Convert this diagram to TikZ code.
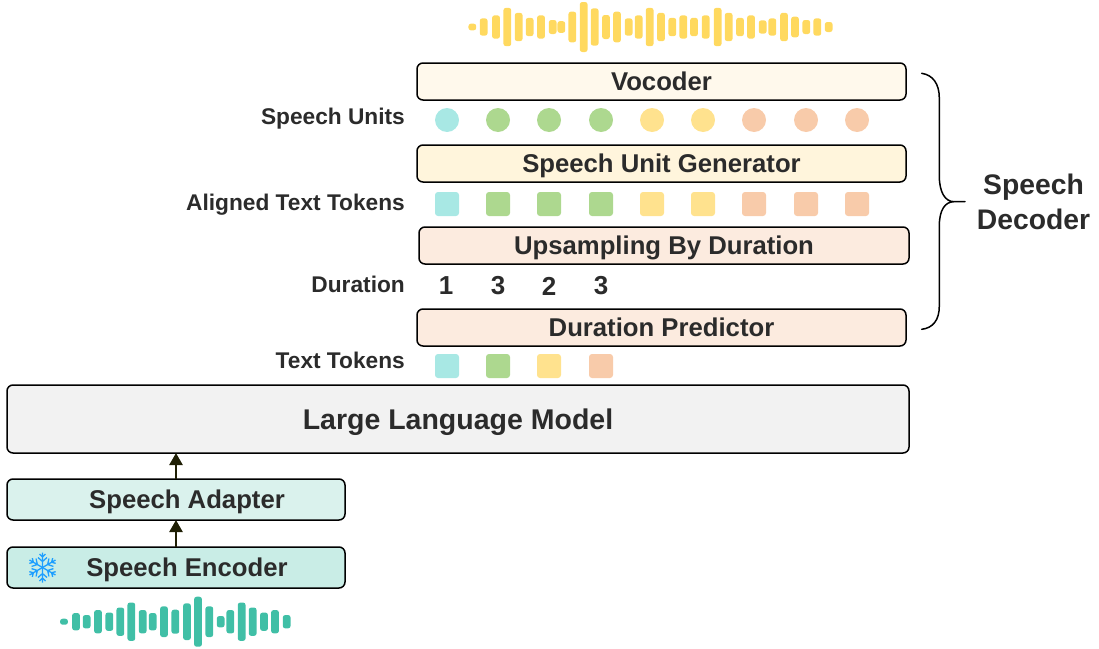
\documentclass[tikz,border=0pt]{standalone}
\usepackage{fontspec}
\setmainfont{Liberation Sans}
\usepackage{tikz}
\usetikzlibrary{arrows.meta}
\definecolor{inkgrey}{HTML}{2B2B2B}
\definecolor{arrowink}{HTML}{1F1F05}
\definecolor{teal1}{HTML}{A8E8E4}
\definecolor{green1}{HTML}{ADD88F}
\definecolor{yellow1}{HTML}{FFE28E}
\definecolor{orange1}{HTML}{F8CBAA}
\definecolor{vocfill}{HTML}{FFF9EC}
\definecolor{genfill}{HTML}{FFF5DC}
\definecolor{durfill}{HTML}{FCEBDF}
\definecolor{llmfill}{HTML}{F2F2F2}
\definecolor{adafill}{HTML}{DAF2ED}
\definecolor{encfill}{HTML}{C9EDE6}
\definecolor{flake}{HTML}{1E9FFF}
\definecolor{waveyellow}{HTML}{FFD95F}
\definecolor{waveteal}{HTML}{40BFA6}
\tikzset{
  block/.style={draw=black,line width=1.5pt,rounded corners=6pt,outer sep=0pt,inner sep=0pt,
    text=inkgrey,text height=18pt,text depth=0pt,font=\bfseries\fontsize{25.7}{28}\selectfont},
  sidelabel/.style={anchor=east,inner sep=0pt,text=inkgrey,text height=16pt,text depth=0pt,font=\bfseries\fontsize{22.7}{26}\selectfont},
  unitdot/.style={circle,minimum size=24pt,inner sep=0pt},
  tokenbox/.style={rounded corners=3pt,minimum size=24pt,inner sep=0pt},
  durnum/.style={inner sep=0pt,text=inkgrey,font=\bfseries\fontsize{26}{28}\selectfont},
  flow/.style={-{Triangle[length=12pt,width=13pt]},line width=2.4pt,draw=arrowink,fill=arrowink}
}
\begin{document}
\begin{tikzpicture}[x=1pt,y=-1pt,>=stealth]
  \useasboundingbox (0,0) rectangle (1099,648);
  % blocks
  \node[block,fill=vocfill,minimum width=489pt,minimum height=37pt] (voc) at (661.5,81.5) {Vocoder};
  \node[block,fill=genfill,minimum width=489pt,minimum height=37pt] (gen) at (661.5,163.5) {Speech Unit Generator};
  \node[block,fill=durfill,minimum width=490pt,minimum height=37pt] (ups) at (664,245.5) {Upsampling By Duration};
  \node[block,fill=durfill,minimum width=489pt,minimum height=37pt] (dur) at (661.5,327.5) {Duration Predictor};
  \node[block,fill=llmfill,minimum width=902pt,minimum height=68pt,text height=20pt,font=\bfseries\fontsize{28.5}{32}\selectfont] (llm) at (458,419) {Large Language Model};
  \node[block,fill=adafill,minimum width=338pt,minimum height=41pt] (ada) at (176,499.5) {\hspace*{22pt}Speech Adapter};
  \node[block,fill=encfill,minimum width=338pt,minimum height=41pt] (enc) at (176,567.5) {\hspace*{22pt}Speech Encoder};
  \draw[flow] (enc.north)--(ada.south);
  \draw[flow] (ada.north)--(ada.north |- llm.south);
  % side labels
  \node[sidelabel] (lunits) at (405,116) {Speech Units};
  \node[sidelabel] (laligned) at (405,202) {Aligned Text Tokens};
  \node[sidelabel] (lduration) at (405,284) {Duration};
  \node[sidelabel] (ltokens) at (405,360) {Text Tokens};
  % units and tokens
  \foreach \x/\c in {447/teal1,498/green1,549/green1,601/green1,652/yellow1,703/yellow1,754/orange1,806/orange1,857/orange1}{
    \node[unitdot,fill=\c] (unit\x) at (\x,120) {};
    \node[tokenbox,fill=\c] (aligned\x) at (\x,204) {};
  }
  \foreach \x/\c in {447/teal1,498/green1,549/yellow1,601/orange1}
    \node[tokenbox,fill=\c] (token\x) at (\x,366) {};
  \foreach \x/\n in {446/1,498/3,549/2,601/3}
    \node[durnum] (num\x) at (\x,286) {\n};
  % brace
  \draw[line width=1.5pt,line cap=round] (921.7,73.3) .. controls (933,75) and (939.3,84) .. (939.3,98)
    -- (939.3,176) .. controls (939.3,192) and (945,201.7) .. (954,201.7) -- (965,201.7)
    (954,201.7) .. controls (945,201.7) and (939.3,210) .. (939.3,226)
    -- (939.3,306) .. controls (939.3,320) and (933,328) .. (921.7,329.3);
  \node[align=center,inner sep=0pt,text=inkgrey,font=\bfseries\fontsize{28.3}{35}\selectfont] (decoder) at (1033.5,201.5) {Speech\\Decoder};
  % snowflake
  \begin{scope}[shift={(42.5,567.5)},draw=flake,line width=1.3pt]
    \foreach \a in {30,90,...,330}{
      \draw[rotate=\a] (0,0)--(15,0) (6,0)--(10,-4.5) (6,0)--(10,4.5) (10.5,0)--(13.5,-3) (10.5,0)--(13.5,3);
    }
  \end{scope}
  % waves
  \foreach \x/\h in {97/20,131/52,168/70,202/115,236/85,269/55,303/70,338/42,364/35,397/92,431/150,464/112,498/72,531/92,566/52,596/70,629/115,663/85,697/55,730/70,762/55,797/70,833/115,866/85,900/55,933/70,968/40,997/52,1032/85,1065/62,1099/42,1132/52,1166/30}{
    \fill[waveyellow,rounded corners=2.5pt] ({440+\x/3-3.9},{27-\h/6}) rectangle ({440+\x/3+3.9},{27+\h/6});
  }
  \foreach \x/\h in {192/18,228/52,260/40,294/70,328/55,361/85,394/115,428/70,458/52,492/92,526/72,561/110,594/150,628/92,662/34,691/70,725/115,758/85,792/55,825/70,860/40}{
    \fill[waveteal,rounded corners=2.5pt] ({\x/3-3.9},{621.7-\h/6}) rectangle ({\x/3+3.9},{621.7+\h/6});
  }
\end{tikzpicture}
\end{document}
